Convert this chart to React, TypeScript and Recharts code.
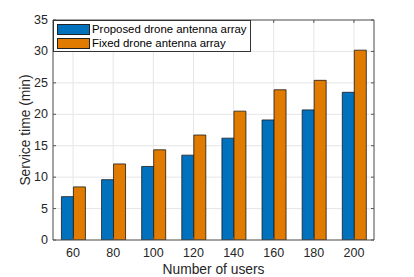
import { BarChart, Bar, XAxis, YAxis, CartesianGrid, Legend } from 'recharts';

const users = [60, 80, 100, 120, 140, 160, 180, 200];
const proposedTime = [6.9, 9.6, 11.7, 13.5, 16.2, 19.1, 20.7, 23.5];
const fixedTime = [8.45, 12.1, 14.35, 16.7, 20.5, 23.9, 25.4, 30.2];
const yTicks = [0, 5, 10, 15, 20, 25, 30, 35];
const seriesNames = ['Proposed drone antenna array', 'Fixed drone antenna array'];

const data = users.map((u, i) => ({
  users: u,
  proposed: proposedTime[i],
  fixed: fixedTime[i]
}));

const FONT = '"Liberation Sans", Arial, Helvetica, sans-serif';
const AXIS = '#555555';
const TEXT = '#262626';

const BottomTick = (props: any) => {
  const { x, y, payload } = props;
  return (
    <g>
      <line x1={x} y1={y} x2={x} y2={y - 3} stroke={AXIS} />
      <text x={x} y={y + 13} textAnchor="middle" dominantBaseline="central" fontSize={12.5} fill={TEXT} fontFamily={FONT}>
        {payload.value}
      </text>
    </g>
  );
};

const TopTick = (props: any) => {
  const { x, y } = props;
  return <line x1={x} y1={y} x2={x} y2={y + 3} stroke={AXIS} />;
};

const LeftTick = (props: any) => {
  const { x, y, payload } = props;
  return (
    <g>
      <line x1={x} y1={y} x2={x + 3} y2={y} stroke={AXIS} />
      <text x={x - 5} y={y} textAnchor="end" dominantBaseline="central" fontSize={12.5} fill={TEXT} fontFamily={FONT}>
        {payload.value}
      </text>
    </g>
  );
};

const RightTick = (props: any) => {
  const { x, y } = props;
  return <line x1={x} y1={y} x2={x - 3} y2={y} stroke={AXIS} />;
};

const renderLegend = (props: any) => {
  const items = [...(props.payload || [])].sort(
    (a: any, b: any) => seriesNames.indexOf(a.value) - seriesNames.indexOf(b.value)
  );
  return (
    <div style={{
      border: '1px solid #333',
      background: '#fff',
      padding: '1px 3px 1px 3px',
      fontFamily: FONT,
      fontSize: 11.4,
      color: '#000',
      lineHeight: '14px'
    }}>
      {items.map((entry: any) => (
        <div key={entry.value} style={{ display: 'flex', alignItems: 'center', whiteSpace: 'nowrap' }}>
          <span style={{
            display: 'inline-block',
            width: 31,
            height: 9,
            background: entry.color,
            border: '1px solid #222',
            marginRight: 2
          }} />
          {entry.value}
        </div>
      ))}
    </div>
  );
};

const App = () => {
  return (
    <div style={{ width: 414, height: 277 }}>
      <style>{'body{margin:0}'}</style>
      <BarChart
        width={414}
        height={277}
        data={data}
        margin={{ top: 0, right: 0, bottom: 0, left: 0 }}
        barCategoryGap="21%"
        barGap={0}
      >
        <CartesianGrid xAxisId="b" yAxisId="l" stroke="#e6e6e6" />
        <XAxis
          xAxisId="b"
          dataKey="users"
          height={37}
          tickLine={false}
          tickSize={0}
          tickMargin={0}
          tick={<BottomTick />}
          axisLine={{ stroke: AXIS }}
          label={({ viewBox }: any) => (
            <text x={viewBox.x + viewBox.width / 2} y={viewBox.y + 29} textAnchor="middle" dominantBaseline="central" fontSize={13.8} fill={TEXT} fontFamily={FONT}>
              Number of users
            </text>
          )}
        />
        <XAxis
          xAxisId="t"
          dataKey="users"
          orientation="top"
          height={20}
          tickLine={false}
          tickSize={0}
          tickMargin={0}
          tick={<TopTick />}
          axisLine={{ stroke: AXIS }}
        />
        <YAxis
          yAxisId="l"
          width={53}
          domain={[0, 35]}
          ticks={yTicks}
          allowDataOverflow
          tickLine={false}
          tickSize={0}
          tickMargin={0}
          tick={<LeftTick />}
          axisLine={{ stroke: AXIS }}
          label={({ viewBox }: any) => (
            <text
              x={viewBox.x + 25}
              y={viewBox.y + viewBox.height / 2}
              textAnchor="middle"
              dominantBaseline="central"
              fontSize={13.8}
              fill={TEXT}
              fontFamily={FONT}
              transform={`rotate(-90, ${viewBox.x + 25}, ${viewBox.y + viewBox.height / 2})`}
            >
              Service time (min)
            </text>
          )}
        />
        <YAxis
          yAxisId="r"
          orientation="right"
          width={40}
          domain={[0, 35]}
          ticks={yTicks}
          allowDataOverflow
          tickLine={false}
          tickSize={0}
          tickMargin={0}
          tick={<RightTick />}
          axisLine={{ stroke: AXIS }}
        />
        <Legend
          layout="vertical"
          align="center"
          verticalAlign="middle"
          wrapperStyle={{ left: 53, top: 20, width: 'auto', height: 'auto' }}
          content={renderLegend}
        />
        <Bar xAxisId="b" yAxisId="l" dataKey="proposed" name={seriesNames[0]} fill="#0072BD" stroke="#1a1a1a" strokeWidth={0.8} isAnimationActive={false} />
        <Bar xAxisId="b" yAxisId="l" dataKey="fixed" name={seriesNames[1]} fill="#E07B00" stroke="#1a1a1a" strokeWidth={0.8} isAnimationActive={false} />
      </BarChart>
    </div>
  );
};

export default App;
